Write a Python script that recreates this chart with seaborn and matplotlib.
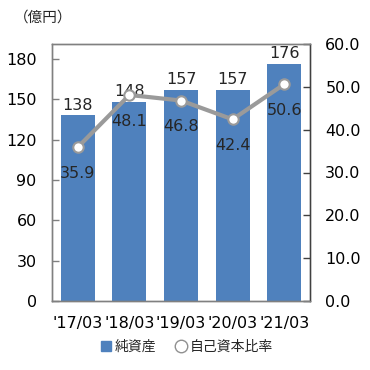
import numpy as np
import pandas as pd
import matplotlib
matplotlib.use('Agg')
import matplotlib.pyplot as plt
from matplotlib.lines import Line2D
import seaborn as sns

# data
periods = ["'17/03", "'18/03", "'19/03", "'20/03", "'21/03"]
net_assets = [138, 148, 157, 157, 176]
equity_ratio = [35.9, 48.1, 46.8, 42.4, 50.6]

bar_color = '#4F81BD'
line_color = '#9A9A9A'
fs = 11.5

sns.set_theme(style='white')
plt.rcParams['font.family'] = ['Noto Sans CJK JP', 'DejaVu Sans']
plt.rcParams['font.size'] = fs

df = pd.DataFrame({'period': periods, 'net_assets': net_assets,
                   'equity_ratio': equity_ratio, 'pos': np.arange(len(periods))})

fig = plt.figure(figsize=(3.7, 3.7), dpi=100)
ax = fig.add_axes([52 / 370, 1 - 301 / 370, 258 / 370, 257 / 370])

sns.barplot(data=df, x='period', y='net_assets', color=bar_color,
            width=0.66, saturation=1, linewidth=0, ax=ax)
ax.set_ylim(0, 191)
ax.set_xlim(-0.5, len(periods) - 0.5)
ax.set_yticks(np.arange(0, 181, 30))
ax.set_xlabel('')
ax.set_ylabel('')

# bar labels
for c in ax.containers:
    ax.bar_label(c, labels=[str(v) for v in net_assets], padding=2,
                 fontsize=fs, family='DejaVu Sans')

ax2 = ax.twinx()
sns.lineplot(data=df, x='pos', y='equity_ratio', color=line_color, linewidth=3,
             marker='o', markersize=7.5, markerfacecolor='white',
             markeredgecolor=line_color, markeredgewidth=1.5, ax=ax2)
ax2.set_ylim(0, 60)
ax2.set_yticks(np.arange(0, 61, 10))
ax2.set_yticklabels([f'{v:.1f}' for v in np.arange(0, 61, 10)])
ax2.set_ylabel('')
ax2.set_xlabel('')

for x, v in zip(df['pos'], equity_ratio):
    ax2.annotate(f'{v}', (x, v), xytext=(0, -19), textcoords='offset points',
                 ha='center', va='center', fontsize=fs, family='DejaVu Sans')

# spines / ticks
for a in (ax, ax2):
    for s in a.spines.values():
        s.set_color('#808080')
        s.set_linewidth(1)
ax2.spines['right'].set_color('#404040')

ax.tick_params(axis='y', direction='in', length=5, width=1, color='#808080',
               pad=11, labelsize=fs, labelcolor='black')
ax2.tick_params(axis='y', direction='in', length=5, width=1, color='#404040',
                pad=11, labelsize=fs, labelcolor='black')
ax.tick_params(axis='x', which='major', length=0, pad=11, labelsize=fs,
               labelcolor='black')
ax.set_xticks(np.arange(-0.5, len(periods)), minor=True)
ax.tick_params(axis='x', which='minor', direction='in', length=5, width=1,
               color='#808080')
for t in ax.get_xticklabels() + ax.get_yticklabels() + ax2.get_yticklabels():
    t.set_family('DejaVu Sans')

fig.text(14 / 370, 1 - 18 / 370, '（億円）', fontsize=10.5, va='center', ha='left')

handles = [
    Line2D([], [], linestyle='none', marker='s', markersize=6.5,
           markerfacecolor=bar_color, markeredgecolor=bar_color),
    Line2D([], [], linestyle='none', marker='o', markersize=9,
           markerfacecolor='white', markeredgecolor='#909090'),
]
fig.legend(handles, ['純資産', '自己資本比率'], loc='center',
           bbox_to_anchor=(0.505, 1 - 347 / 370), ncol=2, frameon=False,
           fontsize=10, handlelength=0.8, handletextpad=0.2, columnspacing=1.4)

fig.savefig('out.png', dpi=100)
